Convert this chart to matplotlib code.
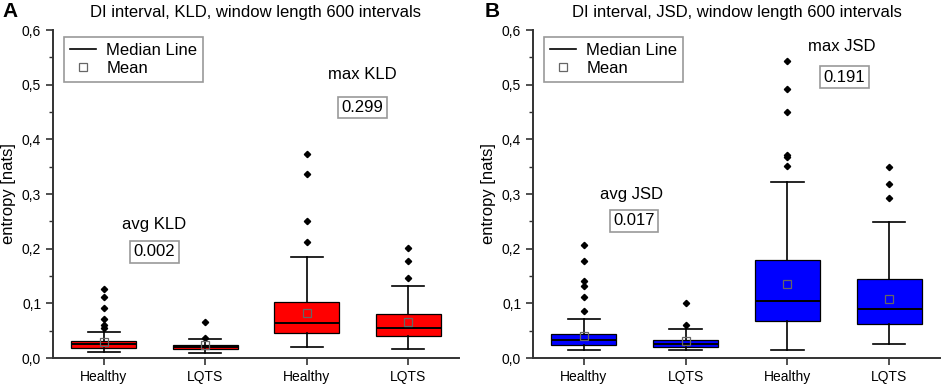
import numpy as np
import matplotlib
matplotlib.use("Agg")
import matplotlib.pyplot as plt
from matplotlib.lines import Line2D

plt.rcParams['font.family'] = ['Liberation Sans', 'DejaVu Sans']

groups = ["Healthy", "LQTS", "Healthy", "LQTS"]

# panel A: KLD
kld_q1 = [0.019, 0.0165, 0.045, 0.040]
kld_med = [0.026, 0.020, 0.0635, 0.054]
kld_q3 = [0.032, 0.0244, 0.102, 0.080]
kld_lo = [0.0104, 0.0086, 0.021, 0.0165]
kld_hi = [0.047, 0.035, 0.1845, 0.132]
kld_mean = [0.029, 0.024, 0.0825, 0.065]
kld_fliers = [[0.127, 0.111, 0.092, 0.072, 0.060, 0.054],
              [0.065, 0.037],
              [0.373, 0.336, 0.2505, 0.212],
              [0.201, 0.1766, 0.1466]]

# panel B: JSD
jsd_q1 = [0.0238, 0.0196, 0.0684, 0.0629]
jsd_med = [0.033, 0.0257, 0.1045, 0.0898]
jsd_q3 = [0.0446, 0.0336, 0.179, 0.1454]
jsd_lo = [0.014, 0.014, 0.0147, 0.025]
jsd_hi = [0.0715, 0.053, 0.322, 0.249]
jsd_mean = [0.040, 0.031, 0.135, 0.1088]
jsd_fliers = [[0.207, 0.177, 0.141, 0.1326, 0.1124, 0.0855],
              [0.1008, 0.0605],
              [0.544, 0.4925, 0.4497, 0.3715, 0.3684, 0.352],
              [0.350, 0.319, 0.293]]

panels = [
    dict(letter="A", title="DI interval, KLD, window length 600 intervals", color="#ff0000",
         q1=kld_q1, med=kld_med, q3=kld_q3, lo=kld_lo, hi=kld_hi, mean=kld_mean, fl=kld_fliers,
         notes=[("avg KLD", "0.002", 1.5, 0.245, 1.5, 0.194),
                ("max KLD", "0.299", 3.55, 0.518, 3.55, 0.458)]),
    dict(letter="B", title="DI interval, JSD, window length 600 intervals", color="#0000ff",
         q1=jsd_q1, med=jsd_med, q3=jsd_q3, lo=jsd_lo, hi=jsd_hi, mean=jsd_mean, fl=jsd_fliers,
         notes=[("avg JSD", "0.017", 1.47, 0.300, 1.49, 0.251),
                ("max JSD", "0.191", 3.53, 0.569, 3.56, 0.514)]),
]

fig = plt.figure(figsize=(9.41, 3.85), dpi=100)
ax_rects = [[53/941, 27/385, 406/941, 328/385], [533/941, 27/385, 407/941, 328/385]]
letter_x = [2/941, 485/941]

for p, rect, lx in zip(panels, ax_rects, letter_x):
    ax = fig.add_axes(rect)
    stats = []
    for i in range(4):
        stats.append(dict(q1=p["q1"][i], med=p["med"][i], q3=p["q3"][i],
                          whislo=p["lo"][i], whishi=p["hi"][i],
                          mean=p["mean"][i], fliers=p["fl"][i]))
    ax.bxp(stats, positions=[1, 2, 3, 4], widths=0.64, patch_artist=True,
           showmeans=True, showfliers=True,
           boxprops=dict(facecolor=p["color"], edgecolor="black", linewidth=0.9),
           medianprops=dict(color="black", linewidth=1.4),
           whiskerprops=dict(color="black", linewidth=1.2),
           capprops=dict(color="black", linewidth=1.2),
           capwidths=0.32,
           meanprops=dict(marker="s", markerfacecolor="none", markeredgecolor="#666666",
                          markersize=6, markeredgewidth=0.9),
           flierprops=dict(marker="D", markerfacecolor="black", markeredgecolor="black",
                           markersize=3.2))
    ax.set_xlim(0.5, 4.5)
    ax.set_ylim(0, 0.6)
    ax.set_xticks([1, 2, 3, 4])
    ax.set_xticklabels(groups, fontsize=10)
    ax.set_yticks(np.arange(0, 0.61, 0.1))
    ax.set_yticklabels([f"{v:.1f}".replace(".", ",") for v in np.arange(0, 0.61, 0.1)], fontsize=10)
    ax.set_yticks(np.arange(0.05, 0.6, 0.1), minor=True)
    ax.tick_params(axis="both", which="major", direction="out", length=5, width=1.2, color="#333333")
    ax.tick_params(axis="y", which="minor", direction="out", length=3, width=1.0, color="#333333")
    ax.spines["top"].set_visible(False)
    ax.spines["right"].set_visible(False)
    for s in ["left", "bottom"]:
        ax.spines[s].set_linewidth(1.4)
        ax.spines[s].set_color("#333333")
    ax.set_ylabel("entropy [nats]", fontsize=12, labelpad=4)
    ax.set_title(p["title"], fontsize=12, pad=9)

    for lab, val, x1, y1, x2, y2 in p["notes"]:
        ax.text(x1, y1, lab, fontsize=12, ha="center", va="center")
        ax.text(x2, y2, val, fontsize=12, ha="center", va="center",
                bbox=dict(boxstyle="square,pad=0.2", facecolor="white", edgecolor="#999999", linewidth=1.2))

    handles = [Line2D([], [], color="black", linewidth=1.2),
               Line2D([], [], linestyle="none", marker="s", markerfacecolor="none",
                      markeredgecolor="#666666", markersize=6, markeredgewidth=0.9)]
    leg = ax.legend(handles, ["Median Line", "Mean"], loc="upper left",
                    bbox_to_anchor=(0.027, 0.979), borderaxespad=0, fontsize=12,
                    fancybox=False, edgecolor="#999999", handlelength=1.6,
                    handletextpad=0.6, labelspacing=0.2, borderpad=0.35, framealpha=1)
    leg.get_frame().set_linewidth(1.2)

    fig.text(lx, 0.995, p["letter"], fontsize=15, fontweight="bold", va="top", ha="left")

fig.savefig("out.png", dpi=100)
